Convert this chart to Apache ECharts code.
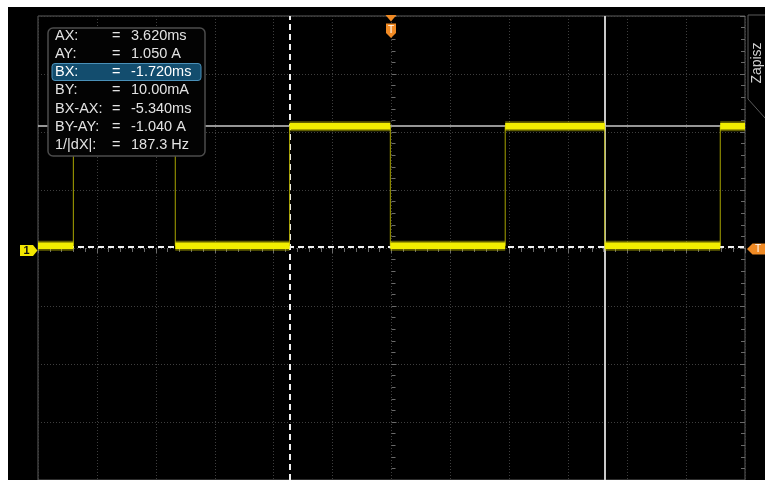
<!DOCTYPE html>
<html>
<head>
<meta charset="utf-8">
<script src="https://cdn.jsdelivr.net/npm/echarts@6/dist/echarts.min.js"></script>
<style>
html,body{margin:0;padding:0;background:#fff;}
#screen{position:absolute;left:8px;top:7px;width:757px;height:473px;background:#000;}
#chart{position:absolute;left:0;top:0;width:773px;height:480px;}
</style>
</head>
<body>
<div id="screen"></div>
<div id="chart"></div>
<script>
// ---- data (time in ms, current in A) ----
const edgeTimes = [-6, -5.40, -3.67, -1.73, -0.02, 1.93, 3.62, 5.58, 6];
const segmentLevels = [0.02, 1.05, 0.02, 1.05, 0.02, 1.05, 0.02, 1.05];
const cursorX = [3.62, -1.72];      // A, B
const cursorY = [1.05, 0.01];       // A, B
const readoutLabels = ['AX:', 'AY:', 'BX:', 'BY:', 'BX-AX:', 'BY-AY:', '1/|dX|:'];
const readoutValues = ['3.620ms', '1.050 A', '-1.720ms', '10.00mA', '-5.340ms', '-1.040 A', '187.3 Hz'];
const timeRange = [-6, 6];
const currentRange = [-2, 2];

// step waveform (thin, with vertical edges)
const stepData = [];
for (let i = 0; i < segmentLevels.length; i++) {
  stepData.push([edgeTimes[i], segmentLevels[i]]);
  stepData.push([edgeTimes[i + 1], segmentLevels[i]]);
}
// level segments only (thick, broken at edges)
const levelData = [];
for (let i = 0; i < segmentLevels.length; i++) {
  levelData.push([edgeTimes[i], segmentLevels[i]]);
  levelData.push([edgeTimes[i + 1], segmentLevels[i]]);
  levelData.push([edgeTimes[i + 1], '-']);
}

const chart = echarts.init(document.getElementById('chart'), null, {renderer: 'canvas'});
const tickColor = '#6a6a6a';
const gridDot = {color: '#3e3e3e', type: [1, 2], width: 1};
const font = '"Liberation Sans", Arial, sans-serif';

const graphics = [];
// cursor readout box
graphics.push({type: 'rect', z: 100, shape: {x: 48, y: 28, width: 157, height: 128, r: 5},
  style: {fill: '#030303', stroke: '#4c4c4c', lineWidth: 1.5}});
graphics.push({type: 'rect', z: 101, shape: {x: 52, y: 63.5, width: 149, height: 17, r: 3},
  style: {fill: '#134d6e', stroke: '#4a90b8', lineWidth: 1}});
readoutLabels.forEach((lab, i) => {
  const y = 35.5 + i * 18.3;
  const col = i === 2 ? '#ffffff' : '#e2e2e2';
  graphics.push({type: 'text', z: 102, x: 55, y: y, style: {text: lab, fill: col, font: '14.5px ' + font, textVerticalAlign: 'middle'}});
  graphics.push({type: 'text', z: 102, x: 112, y: y, style: {text: '=', fill: col, font: '14.5px ' + font, textVerticalAlign: 'middle'}});
  graphics.push({type: 'text', z: 102, x: 131, y: y, style: {text: readoutValues[i], fill: col, font: '14.5px ' + font, textVerticalAlign: 'middle'}});
});
// channel 1 marker
graphics.push({type: 'polygon', z: 90, shape: {points: [[20, 245], [33, 245], [37.5, 250.5], [33, 256], [20, 256]]},
  style: {fill: '#f2e600'}});
graphics.push({type: 'text', z: 91, x: 26.5, y: 251, style: {text: '1', fill: '#111', font: 'bold 11px ' + font, textAlign: 'center', textVerticalAlign: 'middle'}});
// trigger level marker (right)
graphics.push({type: 'polygon', z: 90, shape: {points: [[747, 249], [752.5, 243.5], [765, 243.5], [765, 254.5], [752.5, 254.5]]},
  style: {fill: '#f08a24'}});
graphics.push({type: 'text', z: 91, x: 758, y: 249.5, style: {text: 'T', fill: '#fff', font: '10px ' + font, textAlign: 'center', textVerticalAlign: 'middle'}});
// trigger position marker (top)
graphics.push({type: 'polygon', z: 90, shape: {points: [[385.5, 15], [396.5, 15], [391, 21.5]]},
  style: {fill: '#f08a24'}});
graphics.push({type: 'polygon', z: 90, shape: {points: [[386, 23.5], [396, 23.5], [396, 33], [391, 38], [386, 33]]},
  style: {fill: '#f08a24'}});
graphics.push({type: 'text', z: 91, x: 391, y: 30, style: {text: 'T', fill: '#fff', font: '10px ' + font, textAlign: 'center', textVerticalAlign: 'middle'}});
// "Zapisz" tab
graphics.push({type: 'polyline', z: 90, shape: {points: [[765, 15], [748, 15], [748, 99], [765, 118]]},
  style: {stroke: '#5a5a5a', lineWidth: 1, fill: null}});
graphics.push({type: 'text', z: 91, x: 757.5, y: 63, rotation: Math.PI / 2,
  style: {text: 'Zapisz', fill: '#d0d0d0', font: '14px ' + font, textAlign: 'center', textVerticalAlign: 'middle'}});

chart.setOption({
  backgroundColor: 'transparent',
  animation: false,
  grid: {left: 38, top: 16, width: 707, height: 472, show: true, borderColor: '#5c5c5c', borderWidth: 1, backgroundColor: 'transparent'},
  xAxis: {
    type: 'value', min: timeRange[0], max: timeRange[1], interval: 1, position: 'top',
    axisLine: {show: false},
    axisTick: {show: true, inside: true, length: 5, lineStyle: {color: tickColor}},
    minorTick: {show: true, splitNumber: 5, length: 4, lineStyle: {color: tickColor}},
    axisLabel: {show: false},
    splitLine: {show: true, lineStyle: gridDot}
  },
  yAxis: [{
    type: 'value', min: currentRange[0], max: currentRange[1], interval: 0.5, position: 'left',
    axisLine: {show: false},
    axisTick: {show: true, inside: true, length: 5, lineStyle: {color: tickColor}},
    minorTick: {show: true, splitNumber: 5, length: 4, lineStyle: {color: tickColor}},
    axisLabel: {show: false},
    splitLine: {show: true, lineStyle: gridDot}
  }, {
    type: 'value', min: currentRange[0], max: currentRange[1], interval: 0.5, position: 'right',
    axisLine: {show: false},
    axisTick: {show: true, inside: true, length: 5, lineStyle: {color: tickColor}},
    minorTick: {show: true, splitNumber: 5, length: 4, lineStyle: {color: tickColor}},
    axisLabel: {show: false},
    splitLine: {show: false}
  }],
  series: [{
    type: 'line', z: 2, data: stepData, showSymbol: false, silent: true,
    lineStyle: {color: '#a8a400', width: 1},
    markLine: {
      z: 1, silent: true, symbol: ['none', 'none'], label: {show: false},
      data: [
        {xAxis: cursorX[0], lineStyle: {color: '#c8c8c8', width: 2, type: 'solid'}},
        {yAxis: cursorY[0], lineStyle: {color: '#c8c8c8', width: 1.5, type: 'solid'}},
        {xAxis: cursorX[1], lineStyle: {color: '#f0f0f0', width: 2, type: [6, 4]}},
        {yAxis: cursorY[1], lineStyle: {color: '#f0f0f0', width: 2, type: [6, 4]}}
      ]
    }
  }, {
    type: 'line', z: 3, data: levelData, showSymbol: false, silent: true, connectNulls: false,
    lineStyle: {color: 'rgba(215,210,0,0.45)', width: 10}
  }, {
    type: 'line', z: 4, data: levelData, showSymbol: false, silent: true, connectNulls: false,
    lineStyle: {color: '#f2ee00', width: 6.5}
  }],
  graphic: graphics
});
</script>
</body>
</html>
